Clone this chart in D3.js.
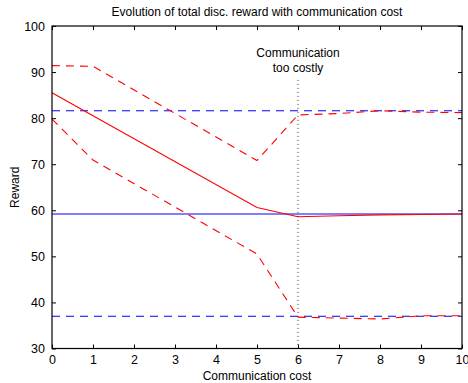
<!DOCTYPE html>
<html>
<head>
<meta charset="utf-8">
<script src="https://d3js.org/d3.v7.min.js"></script>
<style>
  body { margin: 0; background: #fff; }
  text { font-family: "Liberation Sans", Arial, Helvetica, sans-serif; fill: #000; }
</style>
</head>
<body>
<div id="chart"></div>
<script>
// communication cost values where the red curves were sampled
var costs = [0, 1, 5, 6, 7, 8, 9, 10];
// red: with communication (mean, upper and lower bounds)
var rewardMean = [85.5, 80.5, 60.6, 58.6, 58.8, 59.0, 59.1, 59.2];
var rewardUpper = [91.4, 91.25, 70.8, 80.7, 81.0, 81.6, 81.3, 81.2];
var rewardLower = [79.8, 70.9, 50.5, 36.8, 36.6, 36.4, 37.1, 37.1];
// blue: no communication baseline (mean, upper, lower)
var baseline = [59.3, 81.6, 37.0];
var xTicks = [0, 1, 2, 3, 4, 5, 6, 7, 8, 9, 10];
var yTicks = [30, 40, 50, 60, 70, 80, 90, 100];
var tooCostlyAt = 6;

var W = 468, H = 383;
var margin = {top: 26, left: 52, right: 6, bottom: 34.5};
var w = W - margin.left - margin.right;
var h = H - margin.top - margin.bottom;

var svg = d3.select('#chart').append('svg')
    .attr('width', W)
    .attr('height', H);

var x = d3.scaleLinear().domain([0, 10]).range([0, w]);
var y = d3.scaleLinear().domain([30, 100]).range([h, 0]);

var g = svg.append('g')
    .attr('transform', 'translate(' + margin.left + ',' + margin.top + ')');

// title
svg.append('text')
    .attr('x', margin.left + w / 2)
    .attr('y', 16)
    .attr('text-anchor', 'middle')
    .style('font-size', '12px')
    .text('Evolution of total disc. reward with communication cost');

// blue horizontal baselines (solid one shifted half a pixel so it antialiases like the original)
var blueStyle = ['none', '8,6', '8,6'];
var blueShift = [0.5, 0, 0];
var flat = d3.line()
    .x(function (d) { return x(d[0]); })
    .y(function (d) { return y(d[1]); });
baseline.forEach(function (v, i) {
    g.append('path')
        .attr('d', flat([[0, v], [10, v]]))
        .attr('transform', 'translate(0,' + blueShift[i] + ')')
        .attr('fill', 'none')
        .style('stroke', '#0000ff')
        .style('stroke-width', 1)
        .style('stroke-dasharray', blueStyle[i]);
});

// red curves
var line = d3.line()
    .x(function (d, i) { return x(costs[i]); })
    .y(function (d) { return y(d); });

[[rewardMean, 'none'], [rewardUpper, '8,6'], [rewardLower, '8,6']].forEach(function (s) {
    g.append('path')
        .attr('d', line(s[0]))
        .attr('fill', 'none')
        .style('stroke', '#ff0000')
        .style('stroke-width', 1.1)
        .style('stroke-dasharray', s[1]);
});

// dotted marker line
g.append('path')
    .attr('d', flat([[tooCostlyAt, 88.3], [tooCostlyAt, 30]]))
    .attr('fill', 'none')
    .style('stroke', '#333')
    .style('stroke-width', 1)
    .style('stroke-dasharray', '1,3');

var note = g.append('text')
    .attr('text-anchor', 'middle')
    .style('font-size', '12px');
note.append('tspan').attr('x', x(tooCostlyAt)).attr('y', 31).text('Communication');
note.append('tspan').attr('x', x(tooCostlyAt)).attr('y', 46).text('too costly');

// box + ticks
g.append('rect')
    .attr('width', w).attr('height', h)
    .attr('fill', 'none')
    .attr('stroke', '#000')
    .attr('stroke-width', 1.2);

var axB = g.append('g').attr('transform', 'translate(0,' + h + ')')
    .call(d3.axisBottom(x).tickValues(xTicks).tickSizeInner(-4).tickSizeOuter(0).tickPadding(7));
var axT = g.append('g')
    .call(d3.axisTop(x).tickValues(xTicks).tickSizeInner(-4).tickSizeOuter(0).tickFormat(''));
var axL = g.append('g')
    .call(d3.axisLeft(y).tickValues(yTicks).tickSizeInner(-4).tickSizeOuter(0).tickPadding(7));
var axR = g.append('g').attr('transform', 'translate(' + w + ',0)')
    .call(d3.axisRight(y).tickValues(yTicks).tickSizeInner(-4).tickSizeOuter(0).tickFormat(''));

[axB, axT, axL, axR].forEach(function (a) {
    a.select('.domain').remove();
    a.selectAll('.tick line').attr('stroke', '#000');
    a.selectAll('.tick text').style('font-size', '12.5px').attr('fill', '#000')
        .style('font-family', '"Liberation Sans", Arial, sans-serif');
});

// axis labels
svg.append('text')
    .attr('x', margin.left + w / 2)
    .attr('y', 380)
    .attr('text-anchor', 'middle')
    .style('font-size', '12px')
    .text('Communication cost');

svg.append('text')
    .attr('transform', 'translate(19,' + (margin.top + h / 2) + ') rotate(-90)')
    .attr('text-anchor', 'middle')
    .style('font-size', '12px')
    .text('Reward');
</script>
</body>
</html>
